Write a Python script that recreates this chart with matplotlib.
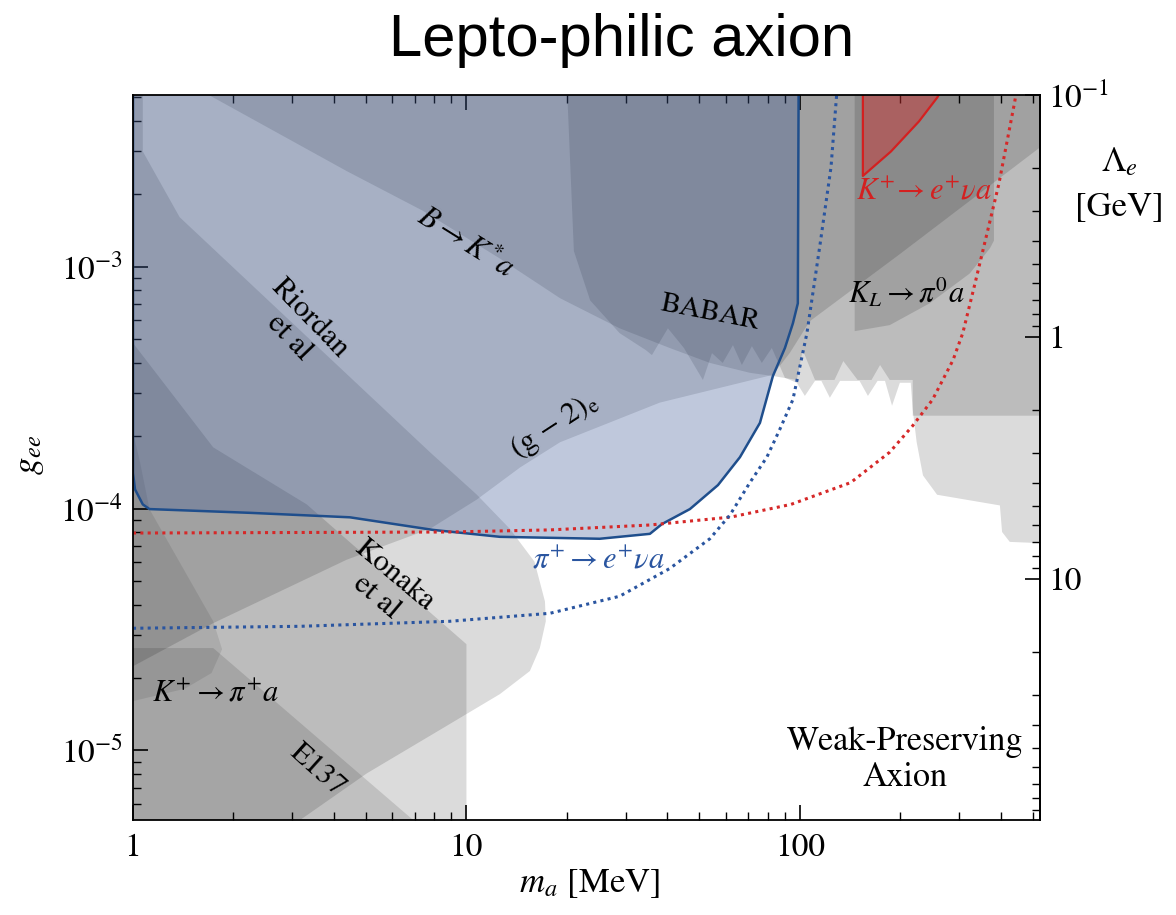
import numpy as np
import matplotlib
matplotlib.use('Agg')
import matplotlib.pyplot as plt
from matplotlib.ticker import LogLocator, NullFormatter

plt.rcParams['font.family'] = ['STIXGeneral', 'DejaVu Serif']
plt.rcParams['mathtext.fontset'] = 'stix'

ME_GEV = 5.11e-4  # Lambda_e = m_e / g_ee

# shaded regions, m_a [MeV] vs g_ee (closed polygons, edges past the frame get clipped)
g2_m = [0.9, 1.0, 1.74, 4.38, 7.77, 10.75, 14.5, 19.1, 38.0, 83.0, 93.3, 107, 200, 525, 600, 600, 0.9]
g2_g = [2.1e-5, 2.23e-5, 3.36e-5, 6.15e-5, 8.24e-5, 1.09e-4, 1.48e-4, 1.88e-4, 2.74e-4, 3.57e-4,
        4.4e-4, 5.94e-4, 1.13e-3, 3.11e-3, 3.6e-3, 1e-2, 1e-2]

rio_m = [0.9, 1.07, 1.07, 1.38, 7.77, 10.75, 13.5, 16.0, 17.2, 17.3, 16.6, 15.5, 12.6, 7.94, 5.03,
         3.17, 2.9, 0.9]
rio_g = [1e-2, 1e-2, 2.99e-3, 1.60e-3, 1.71e-4, 1.14e-4, 8.24e-5, 6.03e-5, 4.13e-5, 3.42e-5, 2.65e-5,
         2.13e-5, 1.71e-5, 1.17e-5, 8.05e-6, 5.16e-6, 4.5e-6, 4.5e-6]

kon_m = [0.9, 1.0, 1.74, 3.32, 5.50, 10.0, 10.0, 0.9]
kon_g = [5.6e-4, 4.83e-4, 1.79e-4, 1.04e-4, 5.65e-5, 2.75e-5, 4.5e-6, 4.5e-6]

e137_m = [0.9, 1.74, 6.92, 7.5, 0.9]
e137_g = [2.65e-5, 2.65e-5, 5.16e-6, 4.5e-6, 4.5e-6]

kpi_m = [0.9, 1.0, 1.05, 1.12, 1.74, 1.85, 1.72, 1.43, 1.0, 0.9]
kpi_g = [2.2e-4, 2.06e-4, 1.55e-4, 9.95e-5, 3.42e-5, 2.62e-5, 2.09e-5, 1.80e-5, 1.60e-5, 1.6e-5]

bk_m = [1.38, 4.38, 7.41, 12.6, 19.1, 28.8, 40.7, 53.7, 70.8, 83.0, 97.9, 102, 111, 127, 135, 149,
        164, 174, 186, 218, 218, 600, 600, 1.38]
bk_g = [5.97e-3, 2.48e-3, 1.70e-3, 1.08e-3, 7.4e-4, 5.56e-4, 4.61e-4, 4.0e-4, 3.64e-4, 3.53e-4,
        3.40e-4, 4.52e-4, 3.40e-4, 3.40e-4, 4.07e-4, 3.40e-4, 3.40e-4, 3.92e-4, 3.40e-4, 3.40e-4,
        2.42e-4, 2.42e-4, 1e-2, 1e-2]

kdec_m = [20.1, 20.1, 21.0, 23.5, 28.8, 34.5, 36.0, 40.2, 44.9, 51.2, 54.5, 58.7, 63.0, 67.0, 71.8,
          76.9, 82.4, 90.2, 97.9, 103.5, 111, 116, 123, 132, 151, 160, 171, 180, 189, 199.5, 215,
          218, 224, 234, 258, 398, 404, 426, 600, 600]
kdec_g = [1e-2, 4.9e-3, 1.16e-3, 7.25e-4, 5.31e-4, 4.52e-4, 4.31e-4, 5.56e-4, 4.61e-4, 3.40e-4,
          4.39e-4, 4.0e-4, 4.74e-4, 3.92e-4, 4.69e-4, 4.0e-4, 4.61e-4, 3.47e-4, 3.31e-4, 2.92e-4,
          3.37e-4, 3.37e-4, 2.87e-4, 3.37e-4, 3.37e-4, 2.92e-4, 3.37e-4, 3.37e-4, 2.66e-4, 3.31e-4,
          3.31e-4, 2.56e-4, 1.88e-4, 1.37e-4, 1.14e-4, 1.03e-4, 8.0e-5, 7.28e-5, 7.14e-5, 1e-2]

kl_m = [146, 146, 186, 245, 323, 371.5, 382, 382]
kl_g = [1e-2, 5.41e-4, 5.73e-4, 7.05e-4, 9.36e-4, 1.19e-3, 1.28e-3, 1e-2]

ke_m = [154.5, 154.5, 187.5, 227.5, 258, 272, 290]
ke_g = [1e-2, 2.37e-3, 2.99e-3, 3.98e-3, 4.99e-3, 5.65e-3, 1e-2]

babar_m = [1.0, 1.0, 1.014, 1.07, 1.12, 2.24, 4.47, 7.94, 12.6, 25.1, 35.5, 38.6, 46.8, 56.8, 66.1,
           75.9, 83.0, 90.2, 95.3, 98.6, 99.3]
babar_g = [1e-2, 1.4e-4, 1.20e-4, 1.04e-4, 9.95e-5, 9.6e-5, 9.2e-5, 8.16e-5, 7.64e-5, 7.5e-5,
           7.86e-5, 8.63e-5, 9.95e-5, 1.25e-4, 1.63e-4, 2.26e-4, 3.53e-4, 4.61e-4, 5.83e-4, 7.05e-4,
           1e-2]

# projections (dotted)
red_m = [1.0, 8.92, 17.8, 35.5, 62.1, 94, 142, 186, 218, 250, 288, 308, 335, 395, 441, 445]
red_g = [7.92e-5, 8.0e-5, 8.16e-5, 8.55e-5, 9.22e-5, 1.04e-4, 1.28e-4, 1.71e-4, 2.20e-4, 2.82e-4,
         4.11e-4, 5.31e-4, 8.5e-4, 2.19e-3, 4.81e-3, 5.2e-3]
blue_m = [1.0, 3.17, 8.92, 17.8, 28.8, 40.7, 53.7, 61.7, 70.8, 79.6, 87, 95.3, 105, 115, 124, 129]
blue_g = [3.2e-5, 3.26e-5, 3.42e-5, 3.69e-5, 4.34e-5, 5.65e-5, 7.5e-5, 9.4e-5, 1.28e-4, 1.63e-4,
          2.12e-4, 2.82e-4, 5.31e-4, 1.24e-3, 2.58e-3, 5.2e-3]

GRAY_LAYERS = [(g2_m, g2_g, 0.14), (rio_m, rio_g, 0.14), (kon_m, kon_g, 0.14),
               (e137_m, e137_g, 0.12), (kpi_m, kpi_g, 0.09), (bk_m, bk_g, 0.14),
               (kdec_m, kdec_g, 0.14), (kl_m, kl_g, 0.14)]


def to_lambda(g):
    with np.errstate(divide='ignore'):
        return ME_GEV / np.asarray(g, dtype=float)


fig = plt.figure(figsize=(11.76, 9.15), dpi=100)
ax = fig.add_axes([133 / 1176, 1 - 820 / 915, 907 / 1176, 725 / 915])
ax.set_xscale('log')
ax.set_yscale('log')
ax.set_xlim(1, 525)
ax.set_ylim(5.16e-6, 5.12e-3)

for m, g, a in GRAY_LAYERS:
    ax.fill(m, g, color='black', alpha=a, lw=0, zorder=1)

ax.fill(babar_m, babar_g, color=(0.24, 0.35, 0.59), alpha=0.33, lw=0, zorder=2)
ax.plot(babar_m, babar_g, color='#1f4e8c', lw=1.8, zorder=3)

ax.fill(ke_m, ke_g, color='#d23030', alpha=0.45, lw=0, zorder=2)
ax.plot(ke_m[:-1], ke_g[:-1], color='#d42020', lw=1.6, zorder=3)

ax.plot(red_m, red_g, color='#d62828', lw=2.2, ls=(0, (1, 1.4)), zorder=3)
ax.plot(blue_m, blue_g, color='#2a55a0', lw=2.2, ls=(0, (1, 1.4)), zorder=3)

# labels
fs = 22
ax.text(9.9, 1.24e-3, r'$B \rightarrow K^{*}a$', rotation=-32, fontsize=fs, ha='center', va='center')
ax.text(3.15, 5.56e-4, 'Riordan\net al', rotation=-46, fontsize=fs, ha='center', va='center',
        multialignment='center', linespacing=1.05)
ax.text(18.4, 2.2e-4, r'(g $-$ 2)$_{\mathrm{e}}$', rotation=33, fontsize=fs, ha='center', va='center')
ax.text(53.7, 6.41e-4, 'BABAR', rotation=-11, fontsize=21, ha='center', va='center')
ax.text(209, 7.75e-4, r'$K_L \rightarrow \pi^0 a$', fontsize=fs, ha='center', va='center')
ax.text(235, 2.03e-3, r'$K^{+}\!\rightarrow e^{+}\nu a$', fontsize=fs, color='#d42020',
        ha='center', va='center')
ax.text(5.70, 4.76e-5, 'Konaka\net al', rotation=-40, fontsize=fs, ha='center', va='center',
        multialignment='center', linespacing=1.05)
ax.text(24.8, 6.03e-5, r'$\pi^{+} \rightarrow e^{+}\nu a$', fontsize=fs, color='#2a55a0',
        ha='center', va='center')
ax.text(1.76, 1.70e-5, r'$K^{+} \rightarrow \pi^{+}a$', fontsize=fs, ha='center', va='center')
ax.text(3.56, 8.28e-6, 'E137', rotation=-42, fontsize=fs, ha='center', va='center')
ax.text(206.5, 9.1e-6, 'Weak-Preserving\nAxion', fontsize=24.5, ha='center', va='center',
        multialignment='center', linespacing=1.2)

# ticks
ax.set_xticks([1, 10, 100])
ax.set_xticklabels(['1', '10', '100'])
ax.set_yticks([1e-5, 1e-4, 1e-3])
ax.xaxis.set_minor_locator(LogLocator(subs=range(2, 10), numticks=20))
ax.yaxis.set_minor_locator(LogLocator(subs=range(2, 10), numticks=20))
ax.xaxis.set_minor_formatter(NullFormatter())
ax.yaxis.set_minor_formatter(NullFormatter())
ax.tick_params(which='both', direction='in', top=True, right=False, labelsize=24)
ax.tick_params(which='major', length=11, width=1.2)
ax.tick_params(which='minor', length=6, width=1.0)
ax.tick_params(axis='x', pad=10)
ax.tick_params(axis='y', pad=7)
for sp in ax.spines.values():
    sp.set_linewidth(1.3)
    sp.set_zorder(5)

sec = ax.secondary_yaxis('right', functions=(to_lambda, to_lambda))
sec.set_yticks([0.1, 1, 10])
sec.set_yticklabels([r'$10^{-1}$', '1', '10'])
sec.yaxis.set_minor_locator(LogLocator(subs=range(2, 10), numticks=20))
sec.yaxis.set_minor_formatter(NullFormatter())
sec.tick_params(which='both', direction='in', labelsize=24, pad=6)
sec.tick_params(which='major', length=11, width=1.2)
sec.tick_params(which='minor', length=6, width=1.0)
sec.spines['right'].set_linewidth(1.3)

# axis titles
fig.text(590 / 1176, 1 - 884 / 915, r'$m_a$ [MeV]', fontsize=25, ha='center', va='center')
fig.text(30 / 1176, 1 - 455 / 915, r'$g_{ee}$', fontsize=25, rotation=90, ha='center', va='center')
fig.text(1119 / 1176, 1 - 163 / 915, r'$\Lambda_e$', fontsize=25, ha='center', va='center')
fig.text(1119 / 1176, 1 - 207 / 915, '[GeV]', fontsize=25, ha='center', va='center')
fig.text(622 / 1176, 1 - 40 / 915, 'Lepto-philic axion', fontsize=43, family='Liberation Sans',
         ha='center', va='center')

fig.savefig('out.png', dpi=100)
